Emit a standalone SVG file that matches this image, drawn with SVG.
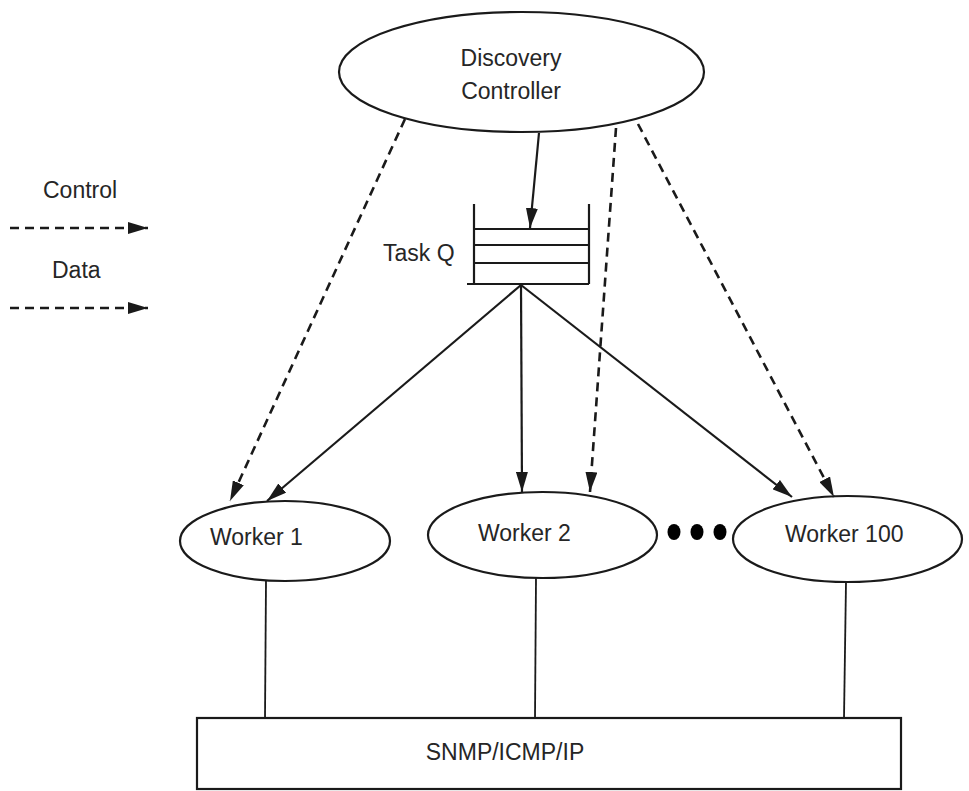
<svg xmlns="http://www.w3.org/2000/svg" width="969" height="791" viewBox="0 0 969 791">
  <style>
    .shape { fill: #ffffff; stroke: #1a1a1a; stroke-width: 2.2; }
    .label { font-family: "Liberation Sans", Arial, sans-serif; font-size: 23px; fill: #262626; }
    .solid { fill: none; stroke: #1a1a1a; stroke-width: 2.2; }
    .dashed { fill: none; stroke: #1a1a1a; stroke-width: 2.6; stroke-dasharray: 9 6; }
    .plain { fill: none; stroke: #1a1a1a; stroke-width: 1.8; }
    .dot { fill: #000000; }
  </style>
  <defs>
    <marker id="arrow" viewBox="0 0 20 12" refX="20" refY="6" markerWidth="20" markerHeight="12" markerUnits="userSpaceOnUse" orient="auto">
      <path d="M0,0 L20,6 L0,12 z" fill="#1a1a1a"/>
    </marker>
  </defs>

  <rect width="969" height="791" fill="#ffffff"/>

  <!-- legend -->
  <g id="legend">
    <text class="label" x="43" y="198">Control</text>
    <line class="dashed" x1="10" y1="228" x2="148" y2="228" marker-end="url(#arrow)"/>
    <text class="label" x="52" y="278">Data</text>
    <line class="dashed" x1="10" y1="308" x2="148" y2="308" marker-end="url(#arrow)"/>
  </g>

  <!-- discovery controller -->
  <g id="controller">
    <ellipse class="shape" cx="521.5" cy="72" rx="182.5" ry="60"/>
    <text class="label" x="511" y="66" text-anchor="middle">Discovery</text>
    <text class="label" x="511" y="99" text-anchor="middle">Controller</text>
  </g>

  <!-- task queue -->
  <g id="taskq">
    <text class="label" x="383" y="261">Task Q</text>
    <line class="solid" x1="474" y1="204" x2="474" y2="284"/>
    <line class="solid" x1="589" y1="204" x2="589" y2="284"/>
    <line class="solid" x1="474" y1="229" x2="589" y2="229"/>
    <line class="solid" x1="474" y1="245" x2="589" y2="245"/>
    <line class="solid" x1="474" y1="263" x2="589" y2="263"/>
    <line class="solid" x1="467" y1="284" x2="589" y2="284"/>
  </g>

  <!-- workers -->
  <g id="worker1">
    <ellipse class="shape" cx="285" cy="541" rx="105" ry="40"/>
    <text class="label" x="210" y="545">Worker 1</text>
  </g>
  <g id="worker2">
    <ellipse class="shape" cx="542.5" cy="535" rx="114.5" ry="43"/>
    <text class="label" x="478" y="541">Worker 2</text>
  </g>
  <g id="ellipsis">
    <ellipse class="dot" cx="674" cy="532" rx="6.5" ry="8"/>
    <ellipse class="dot" cx="697" cy="532" rx="6.5" ry="8"/>
    <ellipse class="dot" cx="720" cy="532" rx="6.5" ry="8"/>
  </g>
  <g id="worker100">
    <ellipse class="shape" cx="847.5" cy="539" rx="114.5" ry="43"/>
    <text class="label" x="785" y="542">Worker 100</text>
  </g>

  <!-- protocol layer -->
  <g id="protocol">
    <rect class="shape" x="197" y="718" width="704" height="71"/>
    <text class="label" x="505" y="760" text-anchor="middle">SNMP/ICMP/IP</text>
  </g>

  <!-- connectors -->
  <g id="connectors">
    <!-- controller to queue -->
    <line class="solid" x1="539" y1="133" x2="530" y2="228" marker-end="url(#arrow)"/>
    <!-- queue to workers -->
    <line class="solid" x1="521" y1="285" x2="267" y2="501" marker-end="url(#arrow)"/>
    <line class="solid" x1="521" y1="285" x2="522" y2="492" marker-end="url(#arrow)"/>
    <line class="solid" x1="521" y1="285" x2="792" y2="497" marker-end="url(#arrow)"/>
    <!-- controller to workers -->
    <line class="dashed" x1="405" y1="119" x2="230" y2="501" marker-end="url(#arrow)"/>
    <line class="dashed" x1="616" y1="128" x2="590" y2="492" marker-end="url(#arrow)"/>
    <line class="dashed" x1="638" y1="124" x2="834" y2="497" marker-end="url(#arrow)"/>
    <!-- workers to protocol layer -->
    <line class="plain" x1="266" y1="581" x2="265" y2="718"/>
    <line class="plain" x1="536" y1="578" x2="535" y2="718"/>
    <line class="plain" x1="846" y1="582" x2="844" y2="718"/>
  </g>
</svg>
